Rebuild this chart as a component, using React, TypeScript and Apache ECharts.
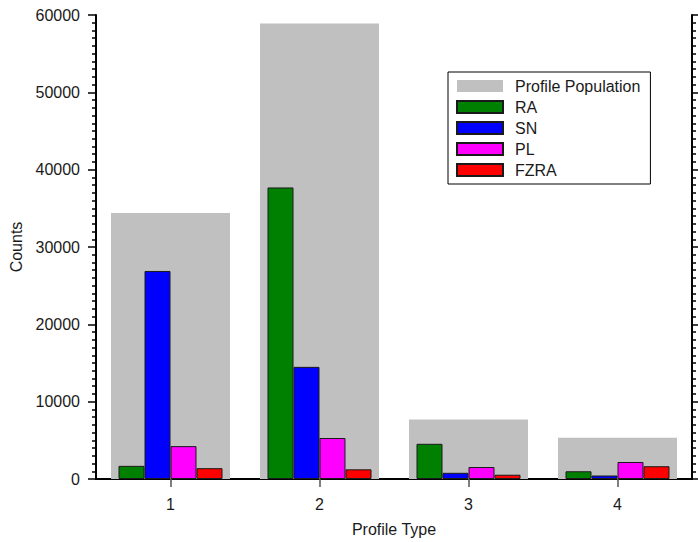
import React, { useEffect, useRef } from "react";
import * as echarts from "echarts";

const categories = ["1", "2", "3", "4"];
const population = [34400, 58900, 7700, 5350];
const ra = [1700, 37700, 4550, 1000];
const sn = [26900, 14500, 800, 450];
const pl = [4250, 5300, 1550, 2200];
const fzra = [1400, 1250, 550, 1650];
const yTicks = { min: 0, max: 60000, interval: 10000 };

const FONT = "'Liberation Sans', Arial, sans-serif";
const TXT = "#1a1a1a";

export default function App() {
  const ref = useRef<HTMLDivElement>(null);
  useEffect(() => {
    document.body.style.margin = "0";
    if (!ref.current) return;
    const chart = echarts.init(ref.current, undefined, { renderer: "svg" });
    const colored = (name: string, data: number[], color: string) => ({
      name,
      type: "bar",
      xAxisIndex: 1,
      yAxisIndex: 0,
      data,
      barWidth: 26,
      barGap: "0%",
      z: 3,
      itemStyle: { color, borderColor: "#1a1a1a", borderWidth: 1 },
    });
    const yBase = {
      type: "value",
      min: yTicks.min,
      max: yTicks.max,
      interval: yTicks.interval,
      splitLine: { show: false },
      axisLine: { show: true, lineStyle: { color: "#000", width: 2 } },
      axisTick: { show: true, length: 8, lineStyle: { color: "#000", width: 1.5 } },
      minorTick: { show: true, splitNumber: 10, length: 4, lineStyle: { color: "#000", width: 1.5 } },
      minorSplitLine: { show: false },
    };
    chart.setOption({
      animation: false,
      textStyle: { fontFamily: FONT },
      grid: { left: 96, right: 6, top: 15, bottom: 63, containLabel: false, outerBoundsMode: "none" },
      legend: {
        orient: "vertical",
        left: 448,
        top: 72,
        padding: [6, 10, 6, 8],
        itemWidth: 46,
        itemHeight: 12,
        itemGap: 5,
        borderColor: "#000",
        borderWidth: 1,
        textStyle: { fontSize: 16, color: TXT, fontFamily: FONT, padding: [0, 0, 0, 7] },
        icon: "rect",
        data: ["Profile Population", "RA", "SN", "PL", "FZRA"],
      },
      xAxis: [
        {
          type: "category",
          data: categories,
          position: "bottom",
          name: "Profile Type",
          nameLocation: "middle",
          nameGap: 42,
          nameTextStyle: { fontSize: 16, color: TXT, fontFamily: FONT },
          axisLine: { show: true, lineStyle: { color: "#000", width: 2 } },
          axisTick: { show: true, alignWithLabel: true, length: 8, lineStyle: { color: "#555", width: 1.5 } },
          axisLabel: { fontSize: 16, color: TXT, margin: 17, fontFamily: FONT },
          splitLine: { show: false },
        },
        {
          type: "category",
          data: categories,
          position: "top",
          axisLine: { show: true, lineStyle: { color: "#000", width: 2 } },
          axisTick: { show: true, alignWithLabel: true, length: 8, lineStyle: { color: "#555", width: 1.5 } },
          axisLabel: { show: false },
          splitLine: { show: false },
        },
      ],
      yAxis: [
        {
          ...yBase,
          position: "left",
          name: "Counts",
          nameLocation: "middle",
          nameRotate: 90,
          nameGap: 64,
          nameTextStyle: { fontSize: 16, color: TXT, fontFamily: FONT },
          axisLabel: {
            fontSize: 16,
            color: TXT,
            margin: 16,
            fontFamily: FONT,
            formatter: (v: number) => String(v),
          },
        },
        {
          ...yBase,
          position: "right",
          axisLabel: { show: false },
        },
      ],
      series: [
        {
          name: "Profile Population",
          type: "bar",
          xAxisIndex: 0,
          yAxisIndex: 0,
          data: population,
          barWidth: 119,
          z: 1,
          itemStyle: { color: "#c0c0c0" },
        },
        colored("RA", ra, "#008000"),
        colored("SN", sn, "#0000ff"),
        colored("PL", pl, "#ff00ff"),
        colored("FZRA", fzra, "#ff0000"),
      ],
    });
    return () => chart.dispose();
  }, []);
  return <div ref={ref} style={{ width: 698, height: 542 }} />;
}
